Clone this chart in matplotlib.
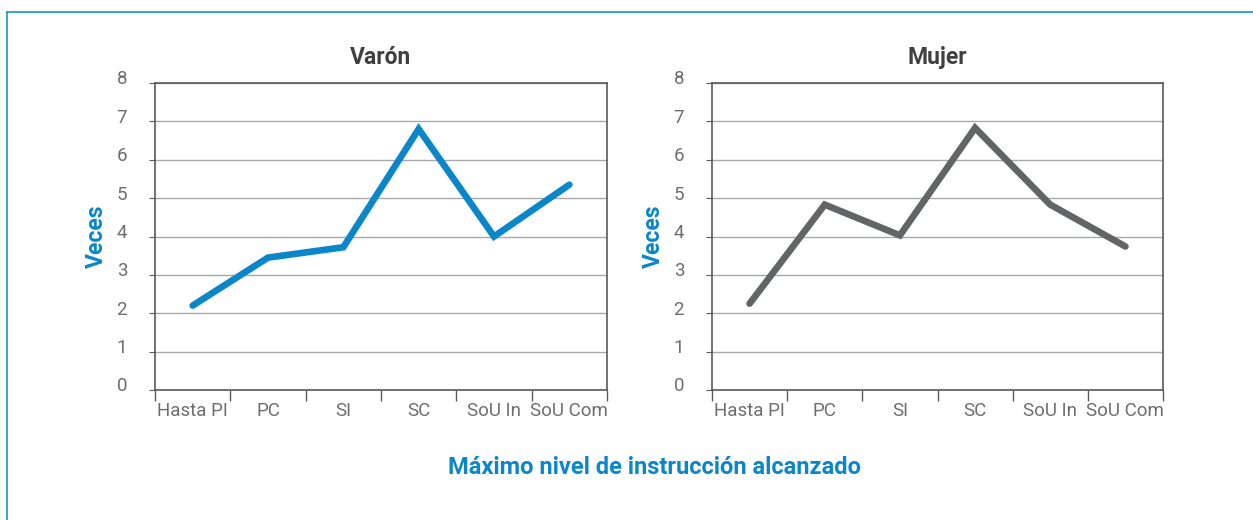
import matplotlib
matplotlib.use("Agg")
import matplotlib.pyplot as plt
from matplotlib.lines import Line2D
from matplotlib.transforms import ScaledTranslation

categories = ["Hasta PI", "PC", "SI", "SC", "SoU In", "SoU Com"]
varon = [2.2, 3.45, 3.72, 6.8, 4.0, 5.35]
mujer = [2.25, 4.83, 4.03, 6.83, 4.83, 3.74]
y_ticks = [0, 1, 2, 3, 4, 5, 6, 7, 8]

BLUE = "#0a86c9"
GRAY_LINE = "#636466"
TEXT_GRAY = "#6d6e70"
TITLE_GRAY = "#404041"

plt.rcParams['font.family'] = ['Roboto', 'DejaVu Sans']

fig = plt.figure(figsize=(12.53, 5.2), dpi=100)


def draw_panel(rect, values, color, title):
    ax = fig.add_axes(rect)
    x = list(range(len(categories)))
    ax.plot(x, values, color=color, lw=4.8, solid_capstyle='round',
            solid_joinstyle='miter', zorder=3)
    ax.set_xlim(-0.5, len(categories) - 0.5)
    ax.set_ylim(0, 8)
    ax.set_yticks(y_ticks)
    ax.grid(axis='y', color='#a7a9ac', lw=1.0)
    ax.set_axisbelow(True)
    for s in ax.spines.values():
        s.set_color('#58595b')
        s.set_linewidth(1.2)
    ax.set_xticks(x)
    ax.set_xticklabels(categories)
    ax.set_xticks([i - 0.5 for i in range(len(categories) + 1)], minor=True)
    ax.tick_params(axis='x', which='major', length=0, pad=9,
                   labelsize=13.5, labelcolor=TEXT_GRAY)
    ax.tick_params(axis='x', which='minor', length=8, color='#58595b', width=1)
    ax.tick_params(axis='y', length=4, color='#58595b', pad=16,
                   labelsize=13.5, labelcolor=TEXT_GRAY)
    for lab in ax.get_yticklabels():
        lab.set_transform(lab.get_transform() +
                          ScaledTranslation(0, 4 / 72, fig.dpi_scale_trans))
    ax.set_title(title, fontsize=16.5, fontweight='bold', color=TITLE_GRAY, pad=14)
    ax.set_ylabel("Veces", fontsize=16.5, fontweight='bold', color=BLUE, labelpad=6)
    return ax


draw_panel([155 / 1253, 130 / 520, 452 / 1253, 307 / 520], varon, BLUE, "Varón")
draw_panel([712 / 1253, 130 / 520, 451 / 1253, 307 / 520], mujer, GRAY_LINE, "Mujer")

fig.text(655 / 1253, 1 - 468 / 520, "Máximo nivel de instrucción alcanzado",
         ha='center', va='center', fontsize=17, fontweight='bold', color=BLUE)

# outer frame (top and left edges)
fig.add_artist(Line2D([7 / 1253, 1.0], [1 - 12 / 520, 1 - 12 / 520],
                      transform=fig.transFigure, color='#1a93d3', lw=1.2))
fig.add_artist(Line2D([7 / 1253, 7 / 1253], [0, 1 - 12 / 520],
                      transform=fig.transFigure, color='#1a93d3', lw=1.2))

fig.savefig("out.png", dpi=100, facecolor='white')
